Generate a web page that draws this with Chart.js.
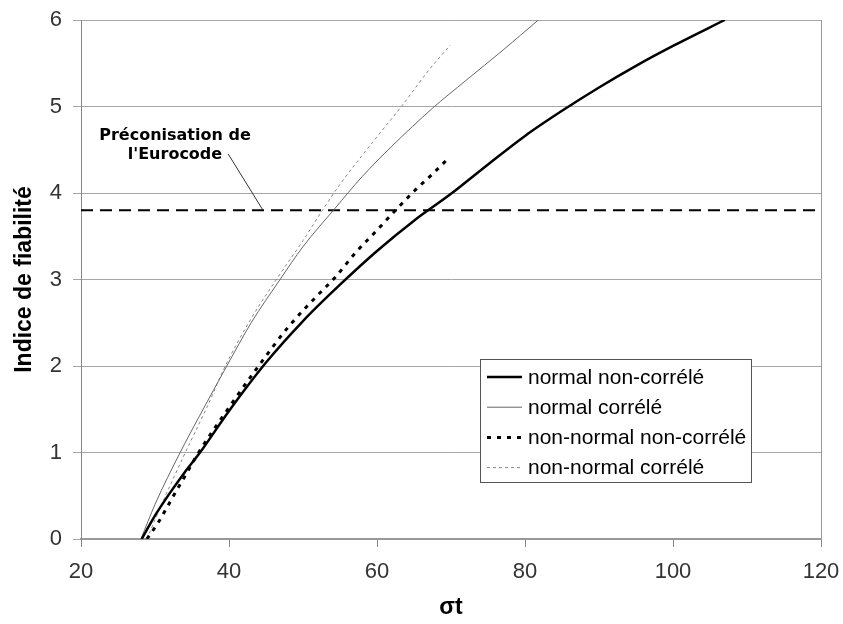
<!DOCTYPE html>
<html>
<head>
<meta charset="utf-8">
<script src="https://cdn.jsdelivr.net/npm/chart.js@4/dist/chart.umd.min.js"></script>
<style>
  html, body { margin: 0; padding: 0; background: #fff; }
  canvas { display: block; }
</style>
</head>
<body>
<canvas id="graphique" width="843" height="624"></canvas>
<script>
// sigma t (abscisse) et indice de fiabilite (ordonnee)
const sigmaNormalNC = [28.2, 30, 32, 34, 36, 40, 45, 50, 55, 60, 65, 70, 75, 80, 85, 90, 95, 100, 107];
const betaNormalNC  = [0, 0.27, 0.53, 0.77, 0.99, 1.48, 2.04, 2.52, 2.94, 3.33, 3.68, 3.99, 4.33, 4.66, 4.95, 5.22, 5.47, 5.70, 6.0];

const sigmaNormalC = [28.1, 30, 33.4, 36, 39.7, 43, 46.9, 50, 54.3, 58, 62, 67.5, 72, 77, 81.8];
const betaNormalC  = [0, 0.4, 1.0, 1.42, 2.0, 2.5, 3.0, 3.38, 3.82, 4.19, 4.54, 4.98, 5.3, 5.65, 6.0];

const sigmaNonNormalNC = [28.9, 30.5, 32.5, 34, 35.9, 40, 44, 48, 52, 54.3, 57, 60, 62.5, 65, 67.5, 69.4];
const betaNonNormalNC  = [0, 0.2, 0.5, 0.72, 1.0, 1.52, 2.0, 2.45, 2.82, 3.02, 3.3, 3.57, 3.8, 4.02, 4.22, 4.38];

const sigmaNonNormalC = [28.9, 31, 34.1, 37, 39.5, 43, 46.4, 50, 52.7, 55, 60, 63.3, 67, 69.9];
const betaNonNormalC  = [0, 0.42, 1.0, 1.52, 2.0, 2.55, 3.0, 3.45, 3.81, 4.1, 4.65, 5.0, 5.42, 5.71];

// preconisation de l'Eurocode
const sigmaEurocode = [20, 120];
const betaEurocode  = [3.8, 3.8];

const ticksX = [20, 40, 60, 80, 100, 120];
const ticksY = [0, 1, 2, 3, 4, 5, 6];

const libelles = ['normal non-corrélé', 'normal corrélé', 'non-normal non-corrélé', 'non-normal corrélé'];

const POLICE = "'Liberation Sans', Arial, sans-serif";

function points(xs, ys) {
    return xs.map((x, i) => ({ x: x, y: ys[i] }));
}

// legende encadree a l'interieur de la zone de trace
const legendeInterne = {
    id: 'legendeInterne',
    afterDraw(chart) {
        const ctx = chart.ctx;
        const a = chart.chartArea;
        const gauche = a.left + 399, haut = a.top + 339;
        const largeur = 271, hauteur = 123;
        ctx.save();
        ctx.fillStyle = '#fff';
        ctx.fillRect(gauche, haut, largeur, hauteur);
        ctx.strokeStyle = '#555';
        ctx.lineWidth = 1;
        ctx.strokeRect(gauche + 0.5, haut + 0.5, largeur, hauteur);
        ctx.font = '21px ' + POLICE;
        ctx.textBaseline = 'middle';
        ctx.fillStyle = '#000';
        chart.data.datasets.filter(d => !d.horsLegende).forEach((d, i) => {
            const y = haut + 18 + i * 30.2;
            ctx.beginPath();
            ctx.strokeStyle = d.borderColor;
            ctx.lineWidth = d.borderWidth;
            ctx.setLineDash(d.borderDash || []);
            ctx.moveTo(gauche + 7, y);
            ctx.lineTo(gauche + 42, y);
            ctx.stroke();
            ctx.setLineDash([]);
            ctx.fillText(d.label, gauche + 48, y + 1);
        });
        ctx.restore();
    }
};

// cadre droit + annotation "Préconisation de l'Eurocode"
const annotation = {
    id: 'annotation',
    afterDatasetsDraw(chart) {
        const ctx = chart.ctx;
        const a = chart.chartArea;
        const sx = chart.scales.x, sy = chart.scales.y;
        ctx.save();
        ctx.strokeStyle = '#999';
        ctx.lineWidth = 1;
        ctx.beginPath();
        ctx.moveTo(a.right + 0.5, a.top);
        ctx.lineTo(a.right + 0.5, a.bottom);
        ctx.stroke();

        ctx.font = "bold 16px 'DejaVu Sans', Verdana, sans-serif";
        ctx.fillStyle = '#000';
        ctx.textAlign = 'center';
        ctx.textBaseline = 'middle';
        const xt = sx.getPixelForValue(32.7);
        ctx.fillText('Préconisation de', xt, sy.getPixelForValue(4.66));
        ctx.fillText("l'Eurocode", xt, sy.getPixelForValue(4.44));

        ctx.strokeStyle = '#333';
        ctx.beginPath();
        ctx.moveTo(sx.getPixelForValue(39.9), sy.getPixelForValue(4.45));
        ctx.lineTo(sx.getPixelForValue(44.6), sy.getPixelForValue(3.8));
        ctx.stroke();
        ctx.restore();
    }
};

const courbe = (label, xs, ys, couleur, largeur, tirets) => ({
    label: label,
    data: points(xs, ys),
    showLine: true,
    borderColor: couleur,
    backgroundColor: couleur,
    borderWidth: largeur,
    borderDash: tirets,
    pointRadius: 0,
    cubicInterpolationMode: 'monotone',
    fill: false
});

new Chart(document.getElementById('graphique'), {
    type: 'scatter',
    data: {
        datasets: [
            courbe(libelles[0], sigmaNormalNC, betaNormalNC, '#000', 2.5, []),
            courbe(libelles[1], sigmaNormalC, betaNormalC, '#666', 1, []),
            courbe(libelles[2], sigmaNonNormalNC, betaNonNormalNC, '#000', 3, [4, 6]),
            courbe(libelles[3], sigmaNonNormalC, betaNonNormalC, '#888', 1, [3, 3]),
            Object.assign(courbe('Eurocode', sigmaEurocode, betaEurocode, '#000', 2, [12, 7]), { horsLegende: true })
        ]
    },
    options: {
        responsive: false,
        animation: false,
        layout: { autoPadding: false, padding: { left: 0, right: 22, top: 20, bottom: 0 } },
        plugins: {
            legend: { display: false },
            tooltip: { enabled: false }
        },
        scales: {
            x: {
                type: 'linear',
                min: 20, max: 120,
                afterBuildTicks: s => { s.ticks = ticksX.map(v => ({ value: v })); },
                afterFit: s => {
                    s.height = 85;
                    s.paddingLeft = 0;
                    s.paddingRight = 0;
                },
                grid: { drawOnChartArea: false, drawTicks: true, tickLength: 8, color: '#888' },
                border: { color: '#999', width: 2 },
                ticks: { color: '#333', padding: 12, font: { family: POLICE, size: 22 } },
                title: {
                    display: true,
                    text: 'σt',
                    color: '#000',
                    font: { family: POLICE, size: 23, weight: 'bold' },
                    padding: { top: 0, bottom: 3 }
                }
            },
            y: {
                min: 0, max: 6,
                afterBuildTicks: s => { s.ticks = ticksY.map(v => ({ value: v })); },
                afterFit: s => {
                    s.width = 81;
                    s.paddingTop = 0;
                    s.paddingBottom = 0;
                },
                grid: { color: '#a6a6a6', drawTicks: true, tickLength: 8 },
                border: { color: '#888', width: 1 },
                ticks: { color: '#333', padding: 11, font: { family: POLICE, size: 22 } },
                title: {
                    display: true,
                    text: 'Indice de fiabilité',
                    color: '#000',
                    font: { family: POLICE, size: 23, weight: 'bold' },
                    padding: { top: 11, bottom: 0 }
                }
            }
        }
    },
    plugins: [annotation, legendeInterne]
});
</script>
</body>
</html>
